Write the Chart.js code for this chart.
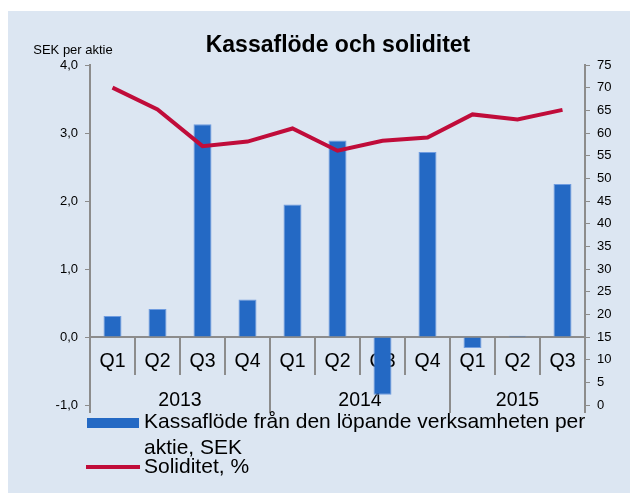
<!DOCTYPE html>
<html>
<head>
<meta charset="utf-8">
<title>Kassaflöde och soliditet</title>
<script src="https://cdn.jsdelivr.net/npm/chart.js@4/dist/chart.umd.min.js"></script>
<style>
  html, body { margin: 0; padding: 0; background: #fff; }
  canvas { display: block; }
</style>
</head>
<body>
<canvas id="kassaChart" width="630" height="493"></canvas>
<script>
// Data
const quarters = ['Q1', 'Q2', 'Q3', 'Q4', 'Q1', 'Q2', 'Q3', 'Q4', 'Q1', 'Q2', 'Q3'];
const years = ['2013', '2014', '2015'];
const quartersPerYear = [4, 4, 3];
const kassaflode = [0.31, 0.41, 3.13, 0.55, 1.95, 2.89, -0.85, 2.72, -0.16, 0.02, 2.25];
const soliditet = [70.0, 65.2, 57.1, 58.1, 61.0, 56.1, 58.3, 59.0, 64.1, 63.0, 65.1];
const leftTicks = [-1, 0, 1, 2, 3, 4];
const rightMax = 75;

const FONT = '"Liberation Sans", Arial, sans-serif';
const AXIS_GREY = '#8c8c8c';
const BAR_BLUE = '#2469c4';
const LINE_RED = '#c00c3a';

// etiketter typ "2013 Q1"
const labels = [];
let qi = 0;
years.forEach((y, i) => {
  for (let k = 0; k < quartersPerYear[i]; k++) {
    labels.push(y + ' ' + quarters[qi]);
    qi++;
  }
});

// bakgrund, rubrik och förklaring
const framePlugin = {
  id: 'frame',
  beforeDraw(chart) {
    const ctx = chart.ctx;
    ctx.save();
    ctx.fillStyle = '#fff';
    ctx.fillRect(0, 0, chart.width, chart.height);
    ctx.fillStyle = '#dce6f2';
    ctx.fillRect(8, 11, chart.width - 8, chart.height - 11);

    ctx.fillStyle = '#000';
    ctx.textAlign = 'center';
    ctx.textBaseline = 'alphabetic';
    ctx.font = 'bold 23px ' + FONT;
    ctx.fillText('Kassaflöde och soliditet', 338, 52);

    ctx.font = '13px ' + FONT;
    ctx.fillText('SEK per aktie', 73, 54);
    ctx.restore();
  },
  afterDraw(chart) {
    const ctx = chart.ctx;
    const ds = chart.data.datasets;
    ctx.save();
    // blå ruta
    ctx.fillStyle = ds[0].backgroundColor;
    ctx.fillRect(87, 418, 52, 10);
    // röd linje
    ctx.strokeStyle = ds[1].borderColor;
    ctx.lineWidth = 4;
    ctx.beginPath();
    ctx.moveTo(86, 467);
    ctx.lineTo(140, 467);
    ctx.stroke();

    ctx.fillStyle = '#000';
    ctx.textAlign = 'left';
    ctx.textBaseline = 'alphabetic';
    ctx.font = '21px ' + FONT;
    ctx.fillText('Kassaflöde från den löpande verksamheten per', 144, 428);
    ctx.fillText('aktie, SEK', 144, 454);
    ctx.fillText('Soliditet, %', 144, 473);
    ctx.restore();
  }
};

// kategoriaxel i två nivåer (kvartal + år) vid y = 0
const categoryAxisPlugin = {
  id: 'categoryAxis',
  beforeDatasetsDraw(chart) {
    const ctx = chart.ctx;
    const x = chart.scales.x;
    const y = chart.scales.y;
    const area = chart.chartArea;
    const zeroY = y.getPixelForValue(0);
    const n = labels.length;
    const step = x.getPixelForValue(1) - x.getPixelForValue(0);

    ctx.save();
    ctx.strokeStyle = AXIS_GREY;
    ctx.lineWidth = 2;
    ctx.beginPath();
    ctx.moveTo(area.left, zeroY);
    ctx.lineTo(area.right, zeroY);
    ctx.stroke();

    // skiljelinjer
    const yearEnds = [];
    let acc = 0;
    quartersPerYear.forEach(c => { acc += c; yearEnds.push(acc); });
    ctx.lineWidth = 2;
    for (let i = 0; i <= n; i++) {
      const bx = x.getPixelForValue(0) - step / 2 + i * step;
      const isYear = i === 0 || yearEnds.includes(i);
      ctx.beginPath();
      if (isYear) {
        ctx.moveTo(bx, (i === 0 || i === n) ? area.bottom : zeroY);
        ctx.lineTo(bx, area.bottom + 8);
      } else {
        ctx.moveTo(bx, zeroY);
        ctx.lineTo(bx, zeroY + 38);
      }
      ctx.stroke();
    }

    ctx.fillStyle = '#000';
    ctx.textAlign = 'center';
    ctx.textBaseline = 'middle';
    ctx.font = '19.5px ' + FONT;
    quarters.forEach((q, i) => {
      ctx.fillText(q, x.getPixelForValue(i), zeroY + 25);
    });

    let start = 0;
    years.forEach((yr, i) => {
      const end = start + quartersPerYear[i] - 1;
      const cx = (x.getPixelForValue(start) + x.getPixelForValue(end)) / 2;
      ctx.fillText(yr, cx, area.bottom - 4);
      start = end + 1;
    });
    ctx.restore();
  }
};

new Chart(document.getElementById('kassaChart'), {
  type: 'bar',
  data: {
    labels: labels,
    datasets: [
      {
        label: 'Kassaflöde från den löpande verksamheten per aktie, SEK',
        data: kassaflode,
        backgroundColor: BAR_BLUE,
        borderColor: '#6f9ce0',
        borderWidth: 1,
        categoryPercentage: 1,
        barPercentage: 0.4,
        yAxisID: 'y',
        order: 1
      },
      {
        type: 'line',
        label: 'Soliditet, %',
        data: soliditet,
        borderColor: LINE_RED,
        backgroundColor: LINE_RED,
        borderWidth: 4,
        pointRadius: 0,
        tension: 0,
        yAxisID: 'y1',
        order: 0
      }
    ]
  },
  options: {
    responsive: false,
    animation: false,
    devicePixelRatio: 1,
    layout: { padding: { top: 65, bottom: 88, left: 0, right: 0 } },
    plugins: {
      legend: { display: false },
      title: { display: false },
      tooltip: { enabled: false }
    },
    scales: {
      x: { display: false },
      y: {
        position: 'left',
        min: leftTicks[0],
        max: leftTicks[leftTicks.length - 1],
        afterBuildTicks(scale) { scale.ticks = leftTicks.map(v => ({ value: v })); },
        afterFit(scale) { scale.width = 90; },
        ticks: {
          padding: 7,
          color: '#000',
          font: { family: FONT, size: 13 },
          callback: v => v.toFixed(1).replace('.', ',')
        },
        grid: { drawOnChartArea: false, tickLength: 5, color: AXIS_GREY, lineWidth: 1 },
        border: { display: true, color: AXIS_GREY, width: 2 }
      },
      y1: {
        position: 'right',
        min: 0,
        max: rightMax,
        afterFit(scale) { scale.width = 45; },
        ticks: {
          stepSize: 5,
          padding: 7,
          color: '#000',
          font: { family: FONT, size: 13 }
        },
        grid: { drawOnChartArea: false, tickLength: 5, color: AXIS_GREY, lineWidth: 1 },
        border: { display: true, color: AXIS_GREY, width: 2 }
      }
    }
  },
  plugins: [framePlugin, categoryAxisPlugin]
});
</script>
</body>
</html>
